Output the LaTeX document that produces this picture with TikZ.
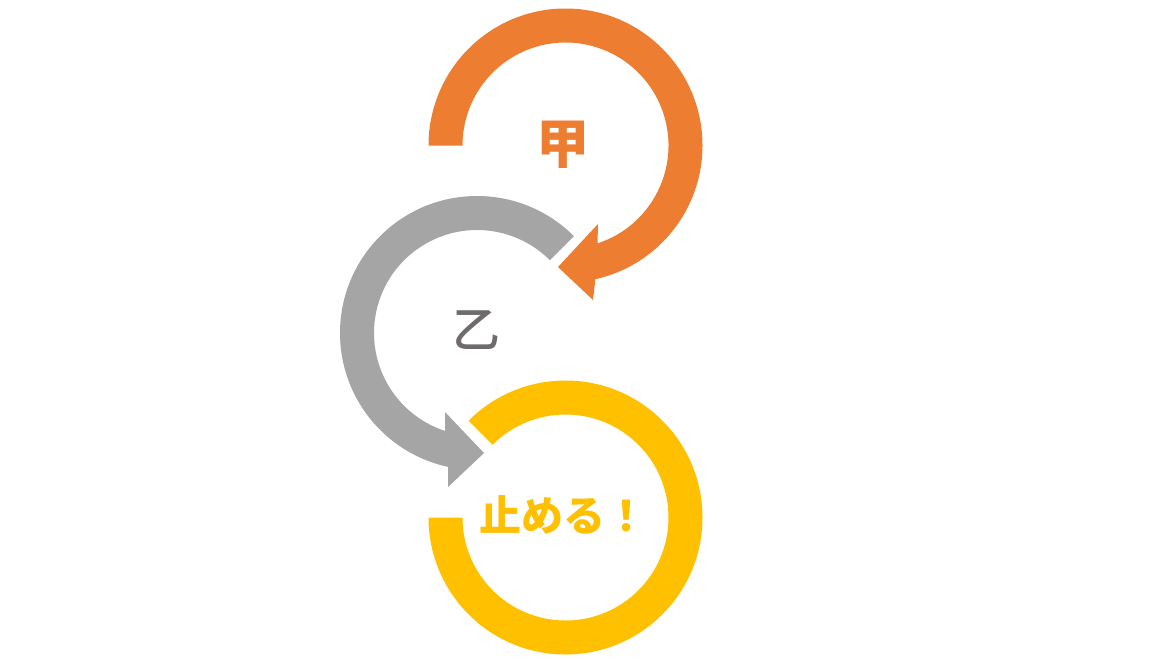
\documentclass[tikz,border=0pt]{standalone}
\usepackage{fontspec}
\newfontfamily\cjk{Noto Sans CJK JP}
\newfontfamily\cjkmed{Noto Sans CJK JP Medium}
\definecolor{orng}{HTML}{ED7D31}
\definecolor{gry}{HTML}{A5A5A5}
\definecolor{ylw}{HTML}{FFC000}
\definecolor{txtgray}{HTML}{6F6B6B}
\tikzset{
  ring/.style={draw=none},
  lbl/.style={inner sep=0pt}
}
\begin{document}
\begin{tikzpicture}[x=1pt,y=1pt]
\useasboundingbox[fill=white] (0,0) rectangle (1155,-662);
\coordinate (oc) at (565.5,-145.5);
\coordinate (gc) at (477,-333);
\coordinate (yc) at (565.5,-517.5);
% orange circular arrow
\fill[orng,ring] ([shift={(oc)}]180:137) arc[start angle=180,end angle=-77.4,radius=137]
  -- (593,-300) -- (558,-267) -- (598,-224)
  -- ([shift={(oc)}]-71.9:103) arc[start angle=-71.9,end angle=180,radius=103] -- cycle;
% gray circular arrow
\fill[gry,ring] ([shift={(gc)}]45:137) arc[start angle=45,end angle=257.8,radius=137]
  -- (448,-487) -- (484,-453) -- (445,-412)
  -- ([shift={(gc)}]251.9:103) arc[start angle=251.9,end angle=45,radius=103] -- cycle;
% yellow ring
\fill[ylw,ring] ([shift={(yc)}]135:137) arc[start angle=135,end angle=-180,radius=137]
  -- ([shift={(yc)}]180:103) arc[start angle=-180,end angle=135,radius=103] -- cycle;
% labels
\node[lbl,text=orng,font=\cjk\bfseries\fontsize{53}{60}\selectfont] (jia) at (562.5,-144.5) {甲};
\node[lbl,text=txtgray,font=\cjkmed\fontsize{48}{56}\selectfont] (yi) at (476,-330) {乙};
\node[lbl,text=ylw,font=\cjk\bfseries\fontsize{42}{48}\selectfont] (stop) at (563,-515) {止める！};
\end{tikzpicture}
\end{document}
